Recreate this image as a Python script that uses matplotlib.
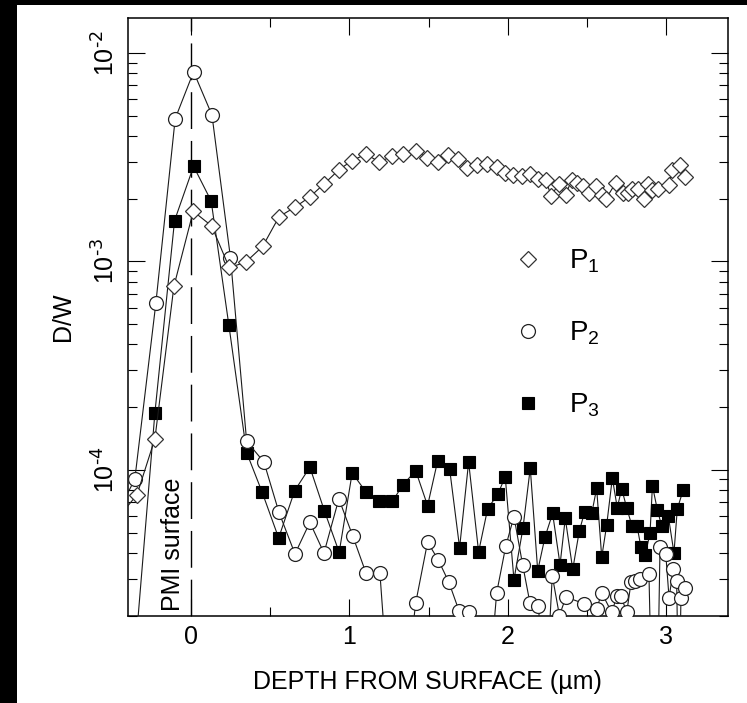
import math
import matplotlib
matplotlib.use("Agg")
import matplotlib.pyplot as plt
from matplotlib.lines import Line2D
from matplotlib.patches import Rectangle
from matplotlib.ticker import MultipleLocator, LogLocator, FuncFormatter, NullFormatter
import matplotlib.transforms as mtransforms

plt.rcParams["font.family"] = ["Liberation Sans", "DejaVu Sans"]
plt.rcParams["mathtext.default"] = "regular"

# depth (um) and D/W for the three profiles
p1_depth = [-0.45, -0.34, -0.227, -0.107, 0.015, 0.131, 0.242, 0.345, 0.453, 0.557,
            0.657, 0.751, 0.842, 0.934, 1.015, 1.105, 1.189, 1.267, 1.340, 1.420,
            1.488, 1.561, 1.624, 1.688, 1.744, 1.804, 1.867, 1.930, 1.982, 2.035,
            2.088, 2.140, 2.193, 2.241, 2.273, 2.325, 2.366, 2.403, 2.439, 2.477,
            2.515, 2.557, 2.593, 2.620, 2.683, 2.725, 2.757, 2.782, 2.824, 2.860,
            2.887, 2.909, 2.950, 3.020, 3.035, 3.087, 3.120]
p1_value = [6.0e-5, 7.6e-5, 1.41e-4, 7.6e-4, 1.74e-3, 1.48e-3, 9.35e-4, 9.9e-4, 1.18e-3, 1.64e-3,
            1.82e-3, 2.04e-3, 2.36e-3, 2.75e-3, 3.04e-3, 3.27e-3, 3.0e-3, 3.19e-3, 3.27e-3, 3.4e-3,
            3.15e-3, 3.0e-3, 3.23e-3, 3.1e-3, 2.8e-3, 2.91e-3, 2.94e-3, 2.84e-3, 2.67e-3, 2.6e-3,
            2.56e-3, 2.63e-3, 2.49e-3, 2.45e-3, 2.07e-3, 2.36e-3, 2.08e-3, 2.47e-3, 2.38e-3, 2.29e-3,
            2.14e-3, 2.29e-3, 2.09e-3, 2.0e-3, 2.39e-3, 2.14e-3, 2.13e-3, 2.22e-3, 2.23e-3, 2.0e-3,
            2.36e-3, 2.21e-3, 2.22e-3, 2.33e-3, 2.75e-3, 2.91e-3, 2.55e-3]

p2_depth = [-0.45, -0.354, -0.221, -0.099, 0.017, 0.133, 0.25, 0.352, 0.461, 0.556,
            0.657, 0.751, 0.84, 0.934, 1.021, 1.105, 1.193, 1.27, 1.35, 1.419,
            1.494, 1.561, 1.629, 1.692, 1.757, 1.82, 1.88, 1.93, 1.987, 2.039,
            2.094, 2.14, 2.193, 2.24, 2.281, 2.326, 2.367, 2.483, 2.561, 2.593,
            2.656, 2.688, 2.715, 2.751, 2.778, 2.803, 2.835, 2.891, 2.915, 2.94,
            2.961, 2.997, 3.018, 3.045, 3.066, 3.08, 3.093, 3.119]
p2_value = [6.5e-5, 9.0e-5, 6.3e-4, 4.84e-3, 8.13e-3, 5.04e-3, 1.04e-3, 1.37e-4, 1.09e-4, 6.25e-5,
            3.95e-5, 5.6e-5, 3.99e-5, 7.26e-5, 4.83e-5, 3.2e-5, 3.2e-5, 5e-6, 8e-6, 2.3e-5,
            4.5e-5, 3.7e-5, 2.88e-5, 2.11e-5, 2.08e-5, 6e-6, 9e-6, 2.57e-5, 4.29e-5, 5.97e-5,
            3.5e-5, 2.3e-5, 2.21e-5, 8e-6, 3.1e-5, 2.0e-5, 2.45e-5, 2.28e-5, 2.15e-5, 2.57e-5,
            2.07e-5, 2.47e-5, 2.47e-5, 2.07e-5, 2.88e-5, 2.94e-5, 3.0e-5, 3.17e-5, 5e-6, 5e-6,
            4.26e-5, 3.96e-5, 2.43e-5, 3.34e-5, 2.94e-5, 6e-6, 2.43e-5, 2.71e-5]

p3_depth = [-0.34, -0.227, -0.103, 0.017, 0.128, 0.24, 0.352, 0.45, 0.554, 0.655,
            0.751, 0.842, 0.936, 1.018, 1.103, 1.189, 1.271, 1.34, 1.419, 1.494,
            1.557, 1.633, 1.696, 1.753, 1.816, 1.873, 1.938, 1.984, 2.039, 2.096,
            2.142, 2.189, 2.235, 2.283, 2.33, 2.363, 2.41, 2.451, 2.485, 2.53,
            2.561, 2.593, 2.624, 2.66, 2.691, 2.719, 2.751, 2.784, 2.816, 2.84,
            2.868, 2.898, 2.913, 2.944, 2.972, 3.013, 3.049, 3.07, 3.108]
p3_value = [1.7e-5, 1.88e-4, 1.57e-3, 2.86e-3, 1.95e-3, 4.93e-4, 1.21e-4, 7.8e-5, 4.71e-5, 7.94e-5,
            1.03e-4, 6.38e-5, 4.02e-5, 9.66e-5, 7.87e-5, 7.1e-5, 7.05e-5, 8.5e-5, 9.9e-5, 6.73e-5,
            1.1e-4, 1.01e-4, 4.23e-5, 1.09e-4, 4.04e-5, 6.5e-5, 7.66e-5, 9.27e-5, 2.97e-5, 5.25e-5,
            1.02e-4, 3.28e-5, 4.76e-5, 6.18e-5, 3.51e-5, 5.85e-5, 3.33e-5, 5.06e-5, 6.28e-5, 6.18e-5,
            8.15e-5, 3.81e-5, 5.41e-5, 9.14e-5, 6.58e-5, 8.11e-5, 6.56e-5, 5.37e-5, 5.37e-5, 4.28e-5,
            3.92e-5, 4.97e-5, 8.39e-5, 6.44e-5, 5.35e-5, 6.02e-5, 3.99e-5, 6.49e-5, 8.04e-5]

series_names = ["P$_1$", "P$_2$", "P$_3$"]
x_major_labels = ["0", "1", "2", "3"]

W, H = 747, 703
fig = plt.figure(figsize=(W / 100, H / 100), dpi=100)
ax = fig.add_axes([127.5 / W, 1 - 615.5 / H, 600.5 / W, 598 / H])

# dark frame bands on the left and top edges
fig.add_artist(Rectangle((0, 0), 17 / W, 1, transform=fig.transFigure,
                         facecolor="black", edgecolor="none", zorder=-10))
fig.add_artist(Rectangle((0, 1 - 5 / H), 1, 5 / H, transform=fig.transFigure,
                         facecolor="black", edgecolor="none", zorder=-10))

d_style = dict(marker="D", ms=7.8, mfc="white", mec="#333333", mew=0.9)
o_style = dict(marker="o", ms=10, mfc="white", mec="#222222", mew=0.9)
s_style = dict(marker="s", ms=9, mfc="black", mec="black", mew=0.8)

line_kw = dict(color="#1a1a1a", lw=0.8)
ax.plot(p3_depth, p3_value, zorder=3, **s_style, **line_kw)
ax.plot(p2_depth, p2_value, zorder=4, **o_style, **line_kw)
ax.plot(p1_depth, p1_value, zorder=5, **d_style, **line_kw)

# sample surface marker
ax.axvline(0, color="black", lw=1.0, dashes=(26.5, 8.6), zorder=2)
surf = mtransforms.blended_transform_factory(ax.transData, ax.transAxes)
ax.text(-0.11, 0.008, "PMI surface", transform=surf, rotation=90,
        ha="center", va="bottom", fontsize=18)

ax.set_yscale("log")
ax.set_xlim(-0.4, 3.39)
ax.set_ylim(2e-5, 1.48e-2)

ax.xaxis.set_major_locator(MultipleLocator(1))
ax.xaxis.set_minor_locator(MultipleLocator(0.5))
ax.xaxis.set_major_formatter(FuncFormatter(
    lambda v, p: x_major_labels[int(round(v))] if 0 <= round(v) < len(x_major_labels) else ""))
ax.yaxis.set_major_locator(LogLocator(base=10))
ax.yaxis.set_minor_locator(LogLocator(base=10, subs=range(2, 10)))
ax.yaxis.set_minor_formatter(NullFormatter())
ax.yaxis.set_major_formatter(FuncFormatter(
    lambda v, p: r"$10^{\text{-%d}}$" % abs(round(math.log10(v)))))

ax.tick_params(which="both", direction="in", top=True, right=True, width=0.8,
               labelsize=18)
ax.tick_params(which="major", length=12)
ax.tick_params(which="minor", length=6.3)
ax.tick_params(axis="x", pad=7)
ax.tick_params(axis="y", pad=6, labelrotation=90)
for lbl in ax.get_yticklabels():
    lbl.set_va("center")
for s in ax.spines.values():
    s.set_linewidth(1.1)

ax.set_xlabel("DEPTH FROM SURFACE (µm)", fontsize=18, labelpad=15)
ax.set_ylabel("D/W", fontsize=18, labelpad=12)

handles = [Line2D([], [], ls="none", **d_style),
           Line2D([], [], ls="none", **o_style),
           Line2D([], [], ls="none", **s_style)]
ax.legend(handles, series_names, loc="upper left", bbox_to_anchor=(0.62, 0.638),
          frameon=False, fontsize=20, handlelength=1.0, handletextpad=1.0,
          labelspacing=1.6, borderpad=0)

fig.savefig("out.png", dpi=100)
